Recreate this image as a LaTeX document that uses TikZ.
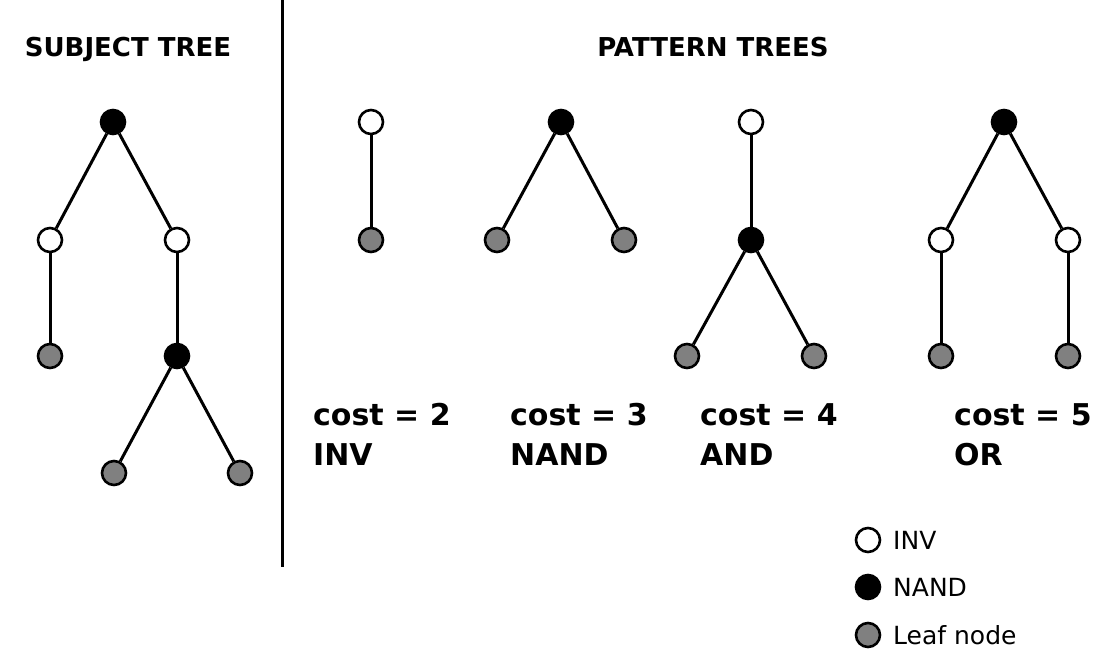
\documentclass[tikz,border=0pt]{standalone}
\usepackage{fontspec}
\setmainfont{DejaVu Sans}
\begin{document}
\begin{tikzpicture}[x=1pt,y=-1pt,
  vtx/.style={circle,draw=black,line width=2.6pt,minimum size=24pt,inner sep=0pt},
  inv/.style={vtx,fill=white},
  nand/.style={vtx,fill=black},
  leaf/.style={vtx,fill=gray},
  edge/.style={line width=3pt},
  title/.style={font=\bfseries\fontsize{26}{30}\selectfont,anchor=base},
  lbl/.style={font=\bfseries\fontsize{30}{34}\selectfont,anchor=base west,inner sep=0pt},
  leg/.style={font=\fontsize{25}{28}\selectfont,anchor=base west,inner sep=0pt}]
\useasboundingbox (0,0) rectangle (1100,663);
% divider
\coordinate (dtop) at (282,0);
\coordinate (dbot) at (282,567);
\draw[line width=3pt] (dtop) -- (dbot);
% titles
\node[title] (t1) at (128,57) {SUBJECT TREE};
\node[title] (t2) at (713,57) {PATTERN TREES};
% subject tree
\node[nand] (s1) at (113,122) {};
\node[inv] (s2) at (50,240) {};
\node[inv] (s3) at (177,240) {};
\node[leaf] (s4) at (50,356) {};
\node[nand] (s5) at (177,356) {};
\node[leaf] (s6) at (114,473) {};
\node[leaf] (s7) at (240,473) {};
\draw[edge] (s1) -- (s2); \draw[edge] (s1) -- (s3);
\draw[edge] (s2) -- (s4); \draw[edge] (s3) -- (s5);
\draw[edge] (s5) -- (s6); \draw[edge] (s5) -- (s7);
% INV pattern
\node[inv] (a1) at (371,122) {};
\node[leaf] (a2) at (371,240) {};
\draw[edge] (a1) -- (a2);
% NAND pattern
\node[nand] (b1) at (561,122) {};
\node[leaf] (b2) at (497,240) {};
\node[leaf] (b3) at (624,240) {};
\draw[edge] (b1) -- (b2); \draw[edge] (b1) -- (b3);
% AND pattern
\node[inv] (c1) at (751,122) {};
\node[nand] (c2) at (751,240) {};
\node[leaf] (c3) at (687,356) {};
\node[leaf] (c4) at (814,356) {};
\draw[edge] (c1) -- (c2); \draw[edge] (c2) -- (c3); \draw[edge] (c2) -- (c4);
% OR pattern
\node[nand] (d1) at (1004,122) {};
\node[inv] (d2) at (941,240) {};
\node[inv] (d3) at (1068,240) {};
\node[leaf] (d4) at (941,356) {};
\node[leaf] (d5) at (1068,356) {};
\draw[edge] (d1) -- (d2); \draw[edge] (d1) -- (d3);
\draw[edge] (d2) -- (d4); \draw[edge] (d3) -- (d5);
% labels
\node[lbl] (l1) at (313,425) {cost = 2};
\node[lbl] (n1) at (313,465) {INV};
\node[lbl] (l2) at (510,425) {cost = 3};
\node[lbl] (n2) at (510,465) {NAND};
\node[lbl] (l3) at (700,425) {cost = 4};
\node[lbl] (n3) at (700,465) {AND};
\node[lbl] (l4) at (954,425) {cost = 5};
\node[lbl] (n4) at (954,465) {OR};
% legend
\node[inv] (g1) at (868,540) {};
\node[nand] (g2) at (868,587) {};
\node[leaf] (g3) at (868,635) {};
\node[leg] (k1) at (893,549) {INV};
\node[leg] (k2) at (893,596) {NAND};
\node[leg] (k3) at (893,644) {Leaf node};
\end{tikzpicture}
\end{document}
